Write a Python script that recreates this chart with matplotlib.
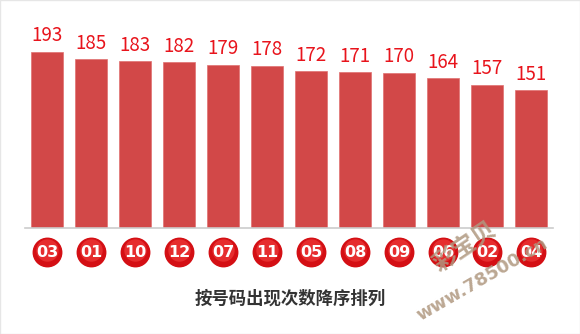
import numpy as np
import matplotlib.pyplot as plt

# 号码与出现次数
numbers = ['03', '01', '10', '12', '07', '11', '05', '08', '09', '06', '02', '04']
counts = [193, 185, 183, 182, 179, 178, 172, 171, 170, 164, 157, 151]
title = '按号码出现次数降序排列'

plt.rcParams['font.family'] = ['Noto Sans CJK SC', 'DejaVu Sans']

fig = plt.figure(figsize=(5.8, 3.34), dpi=100)
ax = fig.add_axes([25 / 580, 106 / 334, 528 / 580, 218 / 334])

x = np.arange(len(numbers))
ax.bar(x, counts, width=0.727, color='#d24848', edgecolor='#e07070', linewidth=0.5)

for xi, c in zip(x, counts):
    ax.text(xi, c + 6, str(c), ha='center', va='bottom', fontsize=13.5,
            color='#e8141c')

ax.set_xlim(-0.5, len(numbers) - 0.5)
ax.set_ylim(0, 239)
ax.set_xticks([])
ax.set_yticks([])
for s in ['top', 'left', 'right']:
    ax.spines[s].set_visible(False)
ax.spines['bottom'].set_color('#cccccc')
ax.spines['bottom'].set_linewidth(1.2)

# 号码红球
ball_y = -26.5
ax.scatter(x, [ball_y] * len(x), s=420, color='#d40f14', clip_on=False, zorder=3)
ax.scatter(x, [ball_y + 2.5] * len(x), s=260, color='#ee3a3a', alpha=0.7,
           linewidth=0, clip_on=False, zorder=4)
for xi, n in zip(x, numbers):
    ax.text(xi, ball_y, n, ha='center', va='center', fontsize=11.5,
            fontweight='bold', color='white', family='DejaVu Sans',
            clip_on=False, zorder=5)

fig.text(290 / 580, 1 - 299 / 334, title, ha='center', va='center',
         fontsize=12.5, fontweight='bold', color='#333333')

# 水印
fig.text(465 / 580, 1 - 247 / 334, '彩宝贝', ha='center', va='center',
         fontsize=17, color='#b09880', alpha=0.85, rotation=34, fontweight='bold')
fig.text(482 / 580, 1 - 280 / 334, 'www.78500.cn', ha='center', va='center',
         fontsize=13, color='#b09880', alpha=0.85, rotation=30, fontweight='bold',
         family='DejaVu Sans')

fig.patches.append(plt.Rectangle((0, 0), 1, 1, transform=fig.transFigure,
                                 fill=False, edgecolor='#e6e6e6', linewidth=1))

fig.savefig('out.png', dpi=100)
